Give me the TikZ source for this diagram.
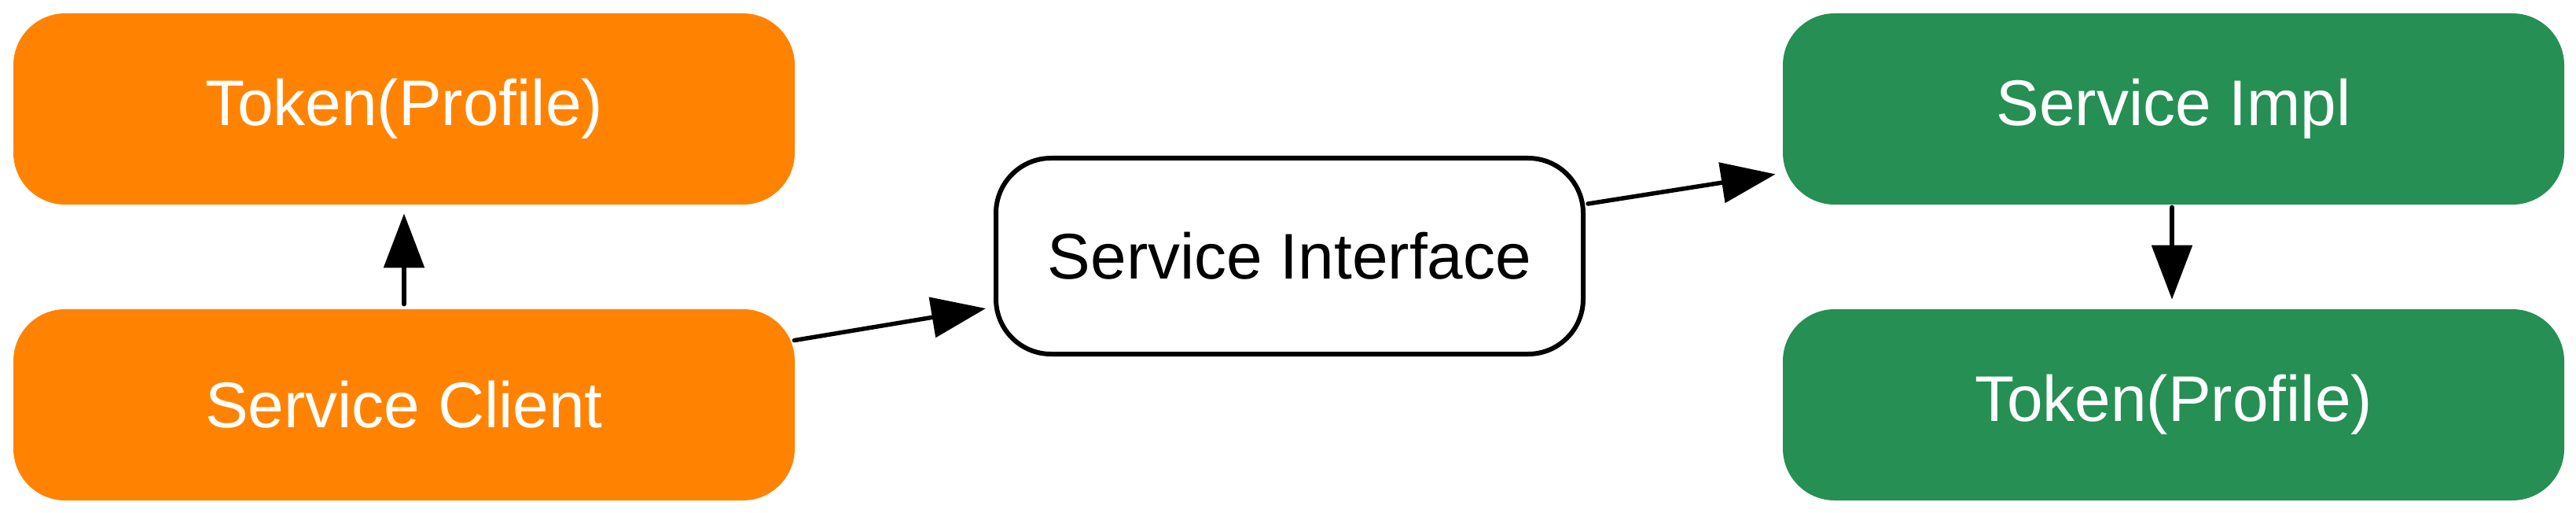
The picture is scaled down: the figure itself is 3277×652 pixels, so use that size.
\documentclass[tikz,border=0pt]{standalone}
\usepackage{fontspec}
\setmainfont{Liberation Sans}
\usetikzlibrary{arrows.meta,calc,positioning}
\definecolor{tokOrange}{HTML}{FF8300}
\definecolor{tokGreen}{HTML}{268F54}
\definecolor{tokInk}{HTML}{000000}

\begin{document}
\begin{tikzpicture}[x=0.5pt,y=-0.5pt,>=Latex,line cap=round,line join=round]
\path[fill=white] (0,0) rectangle (3277,652);
\tikzset{card/.style={rounded corners=33pt,minimum width=497pt,minimum height=121.5pt,inner sep=0pt,text=white,font=\fontsize{41}{49}\selectfont},orangecard/.style={card,fill=tokOrange},greencard/.style={card,fill=tokGreen},ifacebox/.style={draw=tokInk,line width=3pt,fill=white,rounded corners=35pt,minimum width=373.5pt,minimum height=124.5pt,inner sep=0pt,text=tokInk,font=\fontsize{41}{49}\selectfont},link/.style={draw=tokInk,line width=2.75pt,-{Triangle[length=34.5pt,width=25.5pt]}}}
\node[orangecard] (tokL) at (514,138.5) {Token(Profile)};
\node[orangecard] (client) at (514,514.5) {Service Client};
\node[ifacebox] (iface) at (1640.5,325.5) {Service Interface};
\node[greencard] (impl) at (2765,138.5) {Service Impl};
\node[greencard] (tokR) at (2765,514.5) {Token(Profile)};
\draw[link] ($(client.north)+(0,-6)$) -- ($(tokL.south)+(0,11)$);
\draw[link] ($(client.north east)+(-1,40)$) -- ($(iface.south west)+(-10,-61)$);
\draw[link] ($(iface.north east)+(3,61)$) -- ($(impl.south west)+(-9,-39)$);
\draw[link] ($(impl.south)+(-2,3)$) -- ($(tokR.north)+(-2,-12)$);
\end{tikzpicture}
\end{document}
